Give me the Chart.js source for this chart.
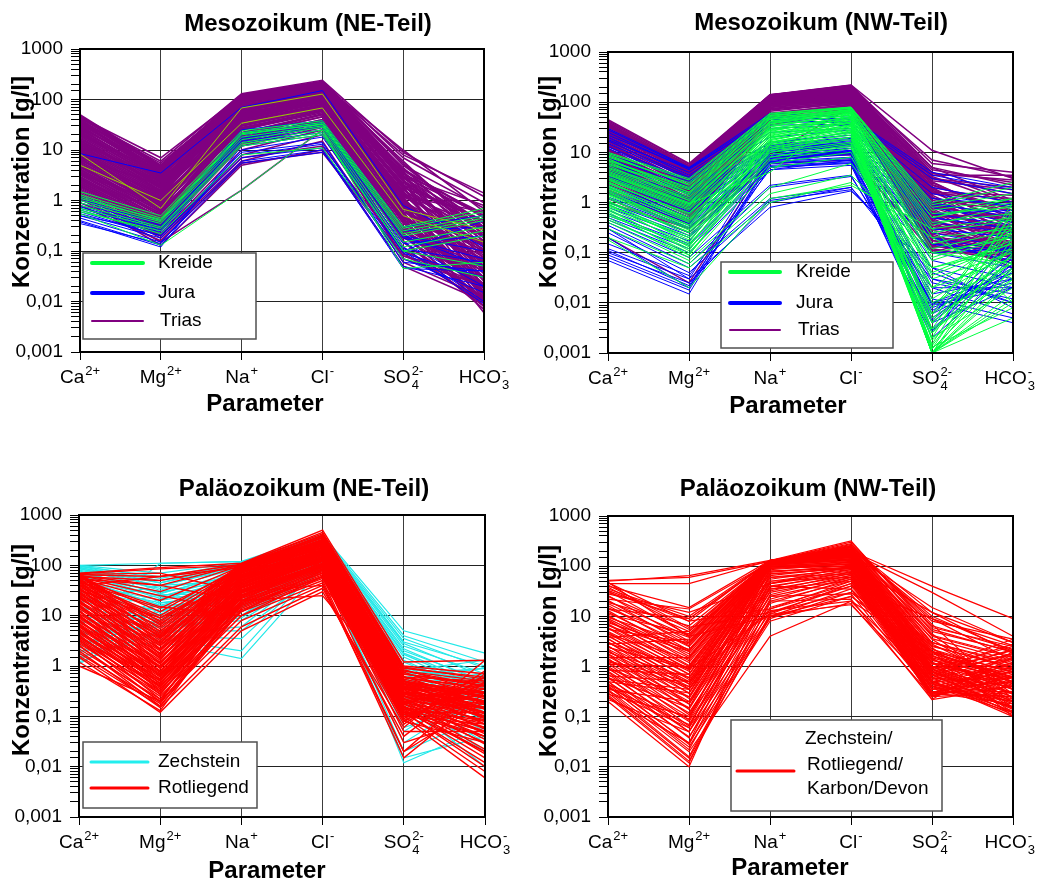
<!DOCTYPE html>
<html>
<head>
<meta charset="utf-8">
<script src="https://cdn.jsdelivr.net/npm/chart.js@4.4.1/dist/chart.umd.min.js"></script>
<style>
  body { margin: 0; background: #fff; }
  #wrap { position: relative; width: 1037px; height: 882px; overflow: hidden; }
  canvas { position: absolute; }
</style>
</head>
<body>
<div id="wrap">
  <canvas id="c1" width="518" height="441" style="left:0;top:0"></canvas>
  <canvas id="c2" width="519" height="441" style="left:518px;top:0"></canvas>
  <canvas id="c3" width="518" height="441" style="left:0;top:441px"></canvas>
  <canvas id="c4" width="519" height="441" style="left:518px;top:441px"></canvas>
</div>
<script>
const params = ['Ca²⁺', 'Mg²⁺', 'Na⁺', 'Cl⁻', 'SO₄²⁻', 'HCO₃⁻'];
// same labels split into base / subscript / superscript for drawing
const paramParts = [['Ca', '', '2+'], ['Mg', '', '2+'], ['Na', '', '+'], ['Cl', '', '-'], ['SO', '4', '2-'], ['HCO', '3', '-']];
const yLabels = ['0,001', '0,01', '0,1', '1', '10', '100', '1000'];

// each row: Ca, Mg, Na, Cl, SO4, HCO3 in g/l

// Mesozoikum NE-Teil
const kreideNE = [
  [1.5, 0.5, 24, 38, 0.3, 0.7], [1.3, 0.45, 22, 35, 0.28, 0.6], [1.2, 0.4, 20, 33, 0.25, 0.5],
  [1, 0.38, 18, 30, 0.2, 0.4], [0.9, 0.35, 16, 28, 0.15, 0.3], [0.8, 0.3, 14, 25, 0.12, 0.25],
  [0.7, 0.28, 13, 22, 0.1, 0.2], [0.6, 0.25, 12, 20, 0.1, 0.05], [0.55, 0.13, 1.6, 25, 0.045, 0.06],
  [1.1, 0.42, 21, 32, 0.22, 0.45], [0.65, 0.22, 8, 11, 0.07, 0.03]
];
const kreideNEhell = [
  [5, 1, 34, 68, 0.5, 0.15], [8.3, 0.7, 68, 128, 0.67, 0.26]
];
const juraNE = [
  [8.5, 3.5, 70, 150, 0.8, 0.12], [1.2, 0.4, 22, 35, 0.25, 0.3], [1, 0.35, 20, 32, 0.2, 0.05],
  [0.9, 0.3, 18, 30, 0.15, 0.02], [0.8, 0.28, 16, 28, 0.12, 0.01], [0.7, 0.25, 15, 25, 0.1, 0.4],
  [0.65, 0.22, 14, 22, 0.09, 0.03], [0.6, 0.2, 9, 14, 0.07, 0.015], [0.55, 0.2, 8, 13, 0.06, 0.04],
  [0.5, 0.18, 7, 11, 0.05, 0.02], [0.45, 0.15, 6, 10, 0.045, 0.04], [0.4, 0.13, 5.5, 9, 0.1, 0.009],
  [0.38, 0.12, 12, 20, 0.14, 0.2], [0.35, 0.14, 10, 18, 0.11, 0.06], [1.1, 0.32, 25, 38, 0.3, 0.5],
  [0.75, 0.26, 20, 34, 0.2, 0.1], [0.5, 0.24, 17, 30, 0.18, 0.07]
];
const triasNE = [
  [50, 5, 125, 220, 5, 0.3], [45, 7, 120, 200, 8, 1.4], [40, 4.5, 115, 210, 4, 0.5],
  [38, 5.5, 110, 190, 6, 0.2], [35, 4, 105, 180, 3, 0.8], [32, 4.2, 100, 200, 10, 0.6],
  [30, 3.5, 95, 170, 2.5, 0.1], [28, 3.8, 90, 160, 3.5, 0.05], [26, 3, 85, 150, 2, 0.4],
  [25, 3.2, 80, 140, 4.5, 0.15], [24, 2.8, 120, 190, 1.8, 0.02], [22, 2.5, 75, 130, 1.5, 0.08],
  [20, 2.6, 70, 125, 2.2, 0.3], [19, 2.2, 100, 150, 1.2, 0.012], [18, 2, 65, 120, 1, 0.03],
  [17, 2.1, 90, 170, 3, 0.5], [16, 1.8, 60, 110, 0.9, 0.06], [15, 1.9, 55, 100, 1.6, 0.2],
  [14, 1.6, 50, 95, 0.8, 0.02], [13, 1.5, 80, 130, 0.7, 0.01], [12, 1.4, 45, 90, 1.1, 0.04],
  [11, 1.3, 70, 120, 0.6, 0.1], [10, 1.2, 40, 85, 0.5, 0.015], [9.5, 1.1, 110, 180, 2.5, 0.25],
  [9, 1.1, 38, 80, 0.45, 0.008], [8.5, 1, 60, 100, 0.9, 0.05], [8, 0.95, 35, 75, 0.4, 0.02],
  [7.5, 0.9, 55, 140, 1.4, 0.12], [7, 0.85, 32, 70, 0.35, 0.03], [6.5, 0.8, 50, 95, 0.6, 0.006],
  [6, 0.75, 30, 65, 0.3, 0.07], [5.5, 0.7, 45, 120, 0.8, 0.2], [5, 0.65, 28, 60, 0.28, 0.01],
  [4.8, 0.6, 90, 160, 1.8, 0.4], [4.5, 0.6, 25, 55, 0.25, 0.04], [4.2, 0.55, 40, 90, 0.5, 0.015],
  [4, 0.5, 22, 50, 0.22, 0.02], [3.8, 0.5, 35, 80, 0.45, 0.09], [3.5, 0.45, 20, 45, 0.2, 0.01],
  [3.2, 0.45, 30, 70, 0.3, 0.03], [3, 0.4, 18, 40, 0.18, 0.05], [2.8, 0.4, 60, 110, 1.2, 0.6],
  [2.6, 0.38, 16, 38, 0.16, 0.007], [2.4, 0.35, 25, 60, 0.25, 0.02], [2.2, 0.32, 15, 35, 0.15, 0.012],
  [2, 0.3, 20, 50, 0.2, 0.04], [1.9, 0.3, 14, 30, 0.12, 0.008], [1.8, 0.28, 45, 95, 0.7, 0.15],
  [1.6, 0.25, 12, 28, 0.1, 0.02], [1.5, 0.22, 10, 25, 0.09, 0.01], [1.4, 0.2, 8, 20, 0.08, 0.03],
  [1.3, 0.18, 6, 15, 0.06, 0.012], [1.2, 0.15, 1.6, 25, 0.07, 0.02], [1.1, 0.13, 5, 10, 0.05, 0.01],
  [0.9, 0.2, 7, 12, 0.1, 0.05], [0.8, 0.16, 5.5, 9, 0.08, 0.02], [42, 6, 130, 240, 9, 1.2],
  [36, 5, 125, 230, 7, 0.9], [27, 4.5, 115, 220, 5, 0.7], [21, 3.5, 105, 200, 4, 0.35],
  [13, 3, 95, 190, 3.5, 0.25], [11, 2.4, 85, 170, 2.8, 0.18], [7, 2, 75, 150, 2, 0.1],
  [48, 4.8, 118, 215, 4.2, 0.45], [46, 4.4, 112, 205, 3.8, 0.12], [44, 4.6, 122, 225, 5.5, 0.25],
  [41, 3.9, 108, 195, 3.2, 0.07], [39, 4.1, 104, 185, 2.8, 0.35], [37, 3.6, 98, 175, 2.6, 0.018],
  [34, 3.4, 112, 200, 3.4, 0.55], [33, 3.7, 92, 165, 2.4, 0.1], [31, 3.1, 88, 160, 2.1, 0.04],
  [29, 3.3, 102, 180, 2.9, 0.22], [27, 2.9, 84, 150, 1.9, 0.013], [23, 2.7, 78, 145, 1.7, 0.09],
  [21, 2.4, 96, 175, 2.4, 0.28], [19, 2.3, 72, 135, 1.5, 0.025], [17, 1.9, 68, 128, 1.3, 0.06],
  [15.5, 2, 86, 160, 1.9, 0.16], [14.5, 1.7, 62, 118, 1.15, 0.011], [13.5, 1.75, 58, 112, 1.05, 0.035],
  [12.5, 1.55, 76, 140, 1.4, 0.13], [11.5, 1.45, 52, 100, 0.95, 0.009], [10.5, 1.35, 48, 96, 0.85, 0.045],
  [9.8, 1.25, 66, 128, 1.2, 0.2], [8.8, 1.15, 44, 88, 0.75, 0.016], [7.8, 1.05, 42, 84, 0.7, 0.065],
  [6.8, 0.95, 58, 115, 0.95, 0.14], [5.8, 0.85, 38, 78, 0.55, 0.022], [5.2, 0.78, 36, 74, 0.5, 0.05],
  [4.6, 0.7, 52, 105, 0.75, 0.11], [4.1, 0.62, 30, 66, 0.4, 0.014], [3.6, 0.56, 27, 62, 0.36, 0.03],
  [3.3, 0.52, 42, 92, 0.6, 0.075], [2.9, 0.46, 22, 52, 0.3, 0.01], [2.7, 0.43, 19, 46, 0.26, 0.028],
  [2.5, 0.4, 32, 72, 0.42, 0.06], [2.3, 0.36, 17, 40, 0.22, 0.008], [2.1, 0.34, 15, 36, 0.19, 0.018],
  [1.95, 0.32, 26, 58, 0.3, 0.045], [1.7, 0.27, 13, 32, 0.15, 0.011], [3.4, 0.9, 70, 140, 1.3, 0.3],
  [6.2, 1.4, 85, 165, 2, 0.4]
];

// Mesozoikum NW-Teil
const kreideNW = [
  [10, 3, 60, 80, 1, 2.5], [8, 2.5, 55, 75, 0.8, 1.5], [7, 2, 50, 70, 0.5, 1],
  [6, 1.8, 45, 65, 0.3, 0.5], [5, 1.5, 40, 60, 0.2, 0.3], [4.5, 1.2, 35, 55, 0.1, 0.2],
  [4, 1, 30, 50, 0.05, 0.15], [3.5, 0.9, 28, 45, 0.03, 0.1], [3, 0.8, 25, 40, 0.02, 0.08],
  [2.8, 0.7, 22, 38, 0.01, 0.06], [2.5, 0.6, 20, 35, 0.005, 0.05], [2.2, 0.5, 18, 32, 0.003, 0.03],
  [2, 0.45, 16, 30, 0.002, 0.02], [1.8, 0.4, 15, 28, 0.001, 0.01], [1.6, 0.35, 14, 25, 0.001, 0.005],
  [1.5, 0.3, 13, 22, 0.001, 0.04], [1.4, 0.28, 12, 20, 0.001, 0.1], [1.2, 0.25, 11, 18, 0.001, 0.2],
  [1, 0.2, 10, 16, 0.0012, 0.3], [0.9, 0.18, 9, 15, 0.0015, 0.5], [0.8, 0.15, 8, 13, 0.002, 0.7],
  [0.7, 0.12, 7, 12, 0.004, 1], [0.6, 0.1, 6, 10, 0.008, 0.4], [0.5, 0.08, 5, 8, 0.02, 0.25],
  [0.4, 0.07, 2, 6, 0.05, 0.12], [0.3, 0.06, 1.5, 3.5, 0.1, 0.06], [0.2, 0.05, 1, 2.5, 0.2, 0.03],
  [0.18, 0.02, 1.2, 2.2, 0.3, 0.01], [9, 2.2, 52, 78, 0.6, 0.8], [7.5, 1.6, 48, 72, 0.4, 0.6],
  [6.5, 1.4, 42, 68, 0.15, 0.35], [5.5, 1.1, 38, 62, 0.08, 0.25], [3.2, 0.85, 32, 58, 0.04, 0.18],
  [2.6, 0.55, 26, 52, 0.015, 0.12], [2.1, 0.42, 24, 48, 0.006, 0.09], [1.7, 0.32, 21, 44, 0.0025, 0.07],
  [1.3, 0.22, 19, 40, 0.0012, 0.05], [1.1, 0.16, 17, 36, 0.001, 0.03], [0.95, 0.13, 15, 33, 0.001, 0.015],
  [0.75, 0.11, 12, 27, 0.0013, 0.008], [0.65, 0.09, 11, 24, 0.003, 0.6], [3.8, 0.95, 4, 70, 0.5, 1.2],
  [9.5, 2.8, 58, 79, 0.9, 2], [8.5, 2.3, 54, 76, 0.7, 1.2], [6.8, 1.9, 46, 69, 0.35, 0.9],
  [5.8, 1.6, 41, 64, 0.25, 0.45], [4.8, 1.3, 37, 60, 0.12, 0.28], [4.2, 1.1, 33, 56, 0.07, 0.22],
  [3.6, 0.95, 29, 52, 0.035, 0.16], [2.9, 0.75, 27, 47, 0.012, 0.11], [2.4, 0.62, 23, 43, 0.004, 0.07],
  [1.9, 0.48, 20, 39, 0.0018, 0.045], [1.45, 0.36, 18, 34, 0.001, 0.025], [1.05, 0.26, 16, 30, 0.001, 0.012],
  [0.85, 0.2, 14, 26, 0.0014, 0.15], [0.55, 0.14, 10, 20, 0.0025, 0.35], [0.45, 0.09, 8, 14, 0.006, 0.8]
];
const juraNW = [
  [30, 5, 60, 50, 4, 2], [25, 4.5, 50, 45, 3, 1.5], [20, 3.5, 40, 40, 2, 1],
  [15, 3, 30, 35, 1.5, 0.8], [12, 2.5, 25, 30, 1, 0.5], [10, 2, 15, 25, 0.8, 0.4],
  [8, 1.5, 14, 20, 0.5, 0.3], [6, 1.2, 13, 18, 0.3, 0.2], [5, 1, 12, 16, 0.2, 0.1],
  [4, 0.8, 11, 15, 0.1, 0.05], [3, 0.6, 10, 14, 0.05, 0.02], [2.5, 0.5, 9, 12, 0.03, 0.01],
  [2, 0.4, 8.5, 11, 0.02, 0.006], [1.5, 0.35, 8, 10, 0.01, 0.004], [1.2, 0.3, 7, 9, 0.008, 0.03],
  [1, 0.25, 6.5, 8, 0.005, 0.06], [0.8, 0.2, 6, 7, 0.004, 0.1], [0.6, 0.15, 5.5, 6.5, 0.003, 0.08],
  [0.5, 0.12, 5, 6, 0.002, 0.05], [0.45, 0.1, 4.5, 5.5, 0.0025, 0.2], [0.4, 0.08, 2.2, 3.5, 0.006, 0.15],
  [0.35, 0.06, 2, 3.3, 0.01, 0.04], [0.3, 0.05, 1.2, 2, 0.02, 0.02], [0.25, 0.04, 1.1, 1.8, 0.04, 0.01],
  [0.12, 0.03, 0.8, 1.7, 0.05, 0.008], [0.1, 0.025, 1, 2, 0.03, 0.015], [0.09, 0.02, 5, 8, 0.015, 0.03],
  [0.08, 0.018, 6, 10, 0.007, 0.05], [0.07, 0.015, 7, 12, 0.004, 0.02], [0.3, 0.03, 10, 15, 0.1, 0.12],
  [0.2, 0.02, 9, 14, 0.2, 0.06], [22, 4.8, 55, 40, 0.3, 0.2], [18, 4, 45, 38, 0.6, 0.7],
  [3.5, 0.7, 10.5, 13, 0.5, 0.3], [0.7, 0.17, 12, 15, 0.15, 0.1],
  [28, 4.8, 45, 48, 3.5, 1.8], [17, 3.2, 35, 36, 1.2, 0.9], [13, 2.7, 20, 28, 0.9, 0.6],
  [9, 1.8, 16, 22, 0.6, 0.35], [7, 1.4, 13.5, 19, 0.4, 0.25], [5.5, 1.1, 12.5, 17, 0.25, 0.12],
  [4.5, 0.9, 11.5, 16, 0.15, 0.07], [3.3, 0.65, 10, 14.5, 0.07, 0.03], [2.2, 0.45, 9, 12, 0.025, 0.012],
  [1.7, 0.38, 8, 10.5, 0.012, 0.005], [1.3, 0.32, 7.5, 9.5, 0.009, 0.02], [0.9, 0.22, 6.2, 7.5, 0.0045, 0.09],
  [0.55, 0.14, 5.2, 6.2, 0.0028, 0.06], [0.15, 0.035, 4.5, 7, 0.01, 0.025], [0.11, 0.022, 6.5, 11, 0.006, 0.04]
];
const triasNW = [
  [45, 6, 140, 220, 11, 3], [40, 5.5, 138, 215, 6, 4], [35, 5, 135, 210, 4, 1],
  [30, 4.5, 132, 200, 3, 2], [28, 4, 130, 190, 2.5, 0.5], [25, 3.8, 128, 185, 3.5, 3.5],
  [22, 3.5, 125, 180, 2, 0.3], [20, 3, 122, 175, 1.5, 1.2], [18, 2.8, 120, 170, 1.8, 0.2],
  [16, 2.5, 118, 165, 1.2, 0.8], [15, 2.2, 115, 160, 1, 0.15], [14, 2, 112, 150, 0.9, 0.4],
  [12, 1.8, 110, 145, 0.8, 0.25], [11, 1.6, 108, 140, 0.7, 0.1], [10, 1.5, 105, 135, 0.6, 0.3],
  [9, 1.4, 100, 130, 0.5, 0.6], [8, 1.2, 98, 125, 0.45, 0.12], [7, 1.1, 95, 120, 0.4, 0.2],
  [6, 1, 90, 115, 0.35, 0.08], [5.5, 0.9, 85, 110, 0.3, 0.35], [5, 0.8, 80, 105, 0.25, 0.15],
  [4.5, 0.75, 75, 100, 0.22, 0.05], [4, 0.7, 70, 95, 0.2, 0.1], [3.5, 0.6, 60, 90, 0.18, 0.06],
  [3, 0.55, 55, 85, 0.15, 0.2], [2.5, 0.5, 50, 80, 0.12, 0.07], [2, 0.45, 45, 75, 0.1, 0.1],
  [38, 5, 140, 200, 3, 1.5], [33, 4.8, 136, 205, 2.2, 0.7], [26, 4.2, 134, 195, 4.5, 2.5],
  [19, 3.2, 130, 190, 2, 1], [13, 2.6, 126, 175, 1.6, 0.4], [9.5, 2.2, 124, 170, 1.3, 0.18],
  [7.5, 1.9, 118, 160, 1, 0.3], [6.5, 1.7, 112, 150, 0.8, 0.5], [4.8, 1.3, 106, 140, 0.6, 0.12],
  [3.8, 1.1, 100, 130, 0.5, 0.25], [2.8, 0.9, 95, 120, 0.4, 0.09], [0.2, 0.025, 8, 9, 0.1, 0.3],
  [1.5, 0.3, 7, 10, 0.2, 0.15], [1.2, 0.25, 6, 7, 0.15, 0.1], [1, 0.3, 9, 80, 1, 0.5],
  [43, 5.8, 139, 218, 5, 2.2], [36, 5.2, 137, 212, 3.3, 0.9], [32, 4.6, 134, 206, 2.7, 1.8],
  [29, 4.3, 131, 198, 2.3, 0.6], [27, 4.1, 129, 192, 3.8, 2.8], [24, 3.7, 127, 188, 1.9, 0.35],
  [21, 3.3, 124, 182, 1.6, 1.4], [17, 2.9, 121, 172, 1.4, 0.25], [14.5, 2.4, 117, 166, 1.1, 0.7],
  [13.5, 2.1, 114, 158, 0.95, 0.18], [11.5, 1.9, 111, 152, 0.85, 0.45], [10.5, 1.7, 109, 147, 0.75, 0.13],
  [9.2, 1.55, 106, 142, 0.65, 0.28], [8.5, 1.45, 103, 137, 0.55, 0.55], [7.2, 1.25, 99, 131, 0.48, 0.1],
  [6.3, 1.15, 96, 126, 0.42, 0.22], [5.8, 1.05, 92, 121, 0.38, 0.09], [5.2, 0.95, 88, 117, 0.33, 0.3],
  [4.7, 0.85, 84, 112, 0.28, 0.14], [4.2, 0.78, 78, 107, 0.24, 0.06], [3.7, 0.68, 72, 102, 0.21, 0.11],
  [3.2, 0.62, 66, 97, 0.17, 0.17], [2.7, 0.56, 58, 92, 0.14, 0.08], [2.3, 0.5, 52, 87, 0.13, 0.12],
  [1.8, 0.42, 40, 70, 0.11, 0.09], [1.6, 0.38, 35, 65, 0.13, 0.15], [41, 5.3, 136, 190, 7, 3.2],
  [34, 4.9, 133, 180, 5, 1.1], [23, 4, 126, 170, 2.6, 0.45], [16.5, 3.1, 119, 160, 1.7, 0.8]
];

// Paläozoikum NE-Teil
const zechsteinNE = [
  [100, 110, 120, 400, 5, 1.8], [95, 60, 110, 350, 3, 1], [90, 50, 100, 300, 2, 0.5],
  [80, 40, 90, 250, 1.5, 0.3], [70, 35, 60, 200, 1, 0.2], [60, 30, 50, 180, 0.8, 0.15],
  [50, 25, 40, 160, 0.5, 0.1], [45, 20, 35, 150, 0.4, 0.05], [40, 18, 30, 140, 0.3, 0.03],
  [35, 15, 25, 130, 0.25, 0.02], [30, 12, 20, 120, 0.2, 0.01], [25, 10, 15, 110, 0.15, 0.3],
  [20, 8, 12, 100, 0.1, 0.4], [15, 7, 10, 90, 0.08, 0.6], [10, 6, 8, 85, 0.05, 0.5],
  [8, 5, 5, 80, 0.03, 0.3], [5, 4, 3.5, 100, 0.02, 0.1], [3, 3.5, 2, 120, 0.012, 0.06],
  [2, 3, 1.4, 90, 0.015, 0.04], [1.5, 4.5, 6, 110, 0.06, 0.2], [1.2, 5, 10, 130, 0.1, 0.15],
  [100, 70, 115, 380, 4, 1.2], [98, 55, 105, 320, 2.5, 0.7], [85, 45, 95, 280, 1.8, 0.4],
  [75, 28, 70, 220, 1.2, 0.25], [65, 22, 55, 190, 0.9, 0.12], [55, 16, 45, 170, 0.6, 0.08],
  [2.5, 8, 28, 150, 0.35, 0.5], [4, 12, 40, 180, 0.5, 0.7], [1.8, 20, 60, 200, 0.7, 0.9],
  [6, 110, 118, 300, 1, 0.4], [97, 45, 112, 360, 3.5, 0.9], [92, 38, 102, 330, 2.8, 0.6],
  [88, 32, 92, 290, 2.2, 0.45], [78, 27, 80, 260, 1.7, 0.35], [68, 24, 65, 230, 1.3, 0.25],
  [3.5, 22, 30, 170, 0.9, 0.5], [2.2, 18, 25, 150, 0.7, 0.4], [1.6, 14, 20, 140, 0.5, 0.3],
  [1.3, 11, 16, 120, 0.4, 0.2], [1.1, 9, 14, 110, 0.3, 0.15], [2.8, 7, 12, 100, 0.25, 0.1],
  [4.5, 6, 9, 95, 0.2, 0.08], [7, 16, 18, 130, 0.45, 0.6], [12, 26, 28, 160, 0.6, 0.9],
  [18, 40, 50, 200, 0.8, 1.3]
];
const rotliegendNE = [
  [70, 90, 110, 500, 1.2, 1.3], [65, 60, 105, 450, 1, 0.7], [60, 50, 100, 400, 0.9, 0.6],
  [55, 20, 95, 350, 0.8, 0.5], [50, 10, 90, 300, 0.7, 0.4], [45, 8, 85, 280, 0.6, 0.35],
  [40, 6, 80, 250, 0.5, 0.3], [35, 5, 75, 230, 0.45, 0.25], [30, 4, 70, 200, 0.4, 0.2],
  [28, 3.5, 65, 190, 0.35, 0.15], [25, 3, 60, 180, 0.3, 0.12], [22, 2.5, 55, 170, 0.28, 0.1],
  [20, 2, 50, 160, 0.25, 0.08], [18, 1.8, 45, 150, 0.22, 0.06], [16, 1.5, 40, 140, 0.2, 0.05],
  [14, 1.2, 38, 130, 0.18, 0.04], [12, 1, 35, 120, 0.16, 0.03], [10, 0.9, 32, 110, 0.15, 0.02],
  [9, 0.8, 30, 100, 0.14, 0.015], [8, 0.7, 28, 95, 0.12, 0.01], [7, 0.6, 25, 90, 0.1, 0.008],
  [6, 0.5, 22, 85, 0.09, 0.006], [5, 0.45, 20, 80, 0.08, 0.03], [4.5, 0.4, 18, 70, 0.05, 0.05],
  [4, 0.35, 15, 60, 0.03, 0.1], [3.5, 0.3, 12, 50, 0.02, 0.2], [3, 0.25, 10, 45, 0.015, 0.3],
  [2.5, 0.2, 8, 40, 0.02, 0.5], [2, 0.15, 6, 35, 0.04, 0.7], [1.5, 0.12, 5, 30, 0.06, 1.3],
  [1.2, 0.13, 20, 25, 0.3, 0.2], [1, 0.2, 30, 40, 0.5, 0.1], [68, 85, 100, 300, 0.5, 0.2],
  [66, 70, 30, 150, 0.3, 0.1], [62, 40, 20, 120, 0.25, 0.3], [58, 25, 12, 80, 0.2, 0.15],
  [52, 15, 10, 60, 0.8, 0.4], [48, 9, 50, 200, 0.6, 0.5], [42, 7, 60, 250, 0.55, 0.25],
  [38, 4.5, 70, 270, 0.5, 0.18], [33, 3.8, 80, 300, 0.45, 0.12], [27, 2.8, 90, 320, 0.4, 0.09],
  [23, 2.2, 95, 350, 0.38, 0.07], [19, 1.6, 100, 380, 0.35, 0.3], [15, 1.3, 85, 260, 0.3, 0.2],
  [11, 1.1, 75, 220, 0.28, 0.15], [9.5, 0.95, 65, 200, 0.25, 0.12], [7.5, 0.75, 58, 180, 0.22, 0.25],
  [6.5, 0.65, 52, 165, 0.2, 0.35], [5.5, 0.55, 46, 150, 0.18, 0.45], [4.8, 0.5, 42, 140, 0.17, 0.6],
  [3.8, 0.42, 36, 125, 0.15, 0.08], [3.2, 0.32, 30, 110, 0.14, 0.05], [2.8, 0.28, 26, 100, 0.13, 0.02],
  [2.2, 0.22, 24, 95, 0.12, 0.012], [1.8, 0.18, 18, 70, 0.11, 0.04], [1.6, 0.16, 16, 60, 0.1, 0.07],
  [69, 6.5, 108, 420, 0.95, 0.55], [67, 4.8, 104, 380, 0.85, 0.3], [64, 3.6, 98, 360, 0.75, 0.22],
  [61, 7.5, 92, 330, 0.68, 0.45], [57, 2.8, 88, 310, 0.62, 0.18], [53, 5.5, 84, 290, 0.58, 0.38],
  [49, 2.2, 78, 270, 0.52, 0.14], [46, 4.2, 74, 250, 0.48, 0.28], [43, 1.7, 70, 240, 0.44, 0.11],
  [41, 3.2, 66, 220, 0.42, 0.24], [37, 1.4, 62, 210, 0.38, 0.09], [34, 2.6, 58, 200, 0.36, 0.2],
  [31, 1.1, 55, 190, 0.34, 0.07], [29, 2.1, 52, 180, 0.32, 0.17], [26, 0.9, 48, 170, 0.3, 0.055],
  [24, 1.7, 46, 165, 0.28, 0.14], [21, 0.75, 43, 160, 0.26, 0.045], [19.5, 1.4, 41, 150, 0.25, 0.12],
  [17, 0.62, 38, 140, 0.23, 0.035], [15.5, 1.15, 36, 135, 0.22, 0.1], [13, 0.52, 33, 125, 0.2, 0.028],
  [12.5, 0.95, 32, 120, 0.19, 0.085], [10.5, 0.44, 29, 110, 0.18, 0.022], [9.8, 0.8, 28, 105, 0.17, 0.07],
  [8.5, 0.38, 26, 100, 0.16, 0.018], [7.8, 0.66, 25, 95, 0.15, 0.06], [6.8, 0.32, 23, 90, 0.14, 0.05],
  [6.2, 0.55, 22, 85, 0.13, 0.04], [5.3, 0.27, 20, 80, 0.12, 0.12], [4.7, 0.46, 19, 75, 0.11, 0.2],
  [4.2, 0.22, 17, 70, 0.1, 0.3], [3.7, 0.38, 16, 65, 0.09, 0.45], [3.3, 0.19, 14, 60, 0.08, 0.6],
  [2.6, 0.16, 13, 55, 0.07, 0.8], [63, 30, 100, 200, 0.6, 0.3], [59, 12, 95, 250, 0.5, 0.25],
  [54, 40, 105, 300, 0.45, 0.2], [47, 14, 85, 220, 0.4, 0.15], [39, 60, 90, 260, 0.35, 0.12],
  [32, 9, 75, 180, 0.3, 0.1]
];

// Paläozoikum NW-Teil
const palaeoNW = [
  [50, 65, 130, 200, 40, 9], [45, 45, 128, 190, 30, 4], [52, 60, 125, 180, 15, 3],
  [40, 15, 130, 220, 10, 2], [35, 10, 128, 250, 8, 3.5], [30, 9, 125, 300, 6, 2.5],
  [25, 5, 130, 320, 5, 2], [20, 4, 127, 280, 4, 1.5], [18, 3, 126, 240, 3, 1.2],
  [15, 2.5, 124, 210, 2.5, 1], [12, 2, 122, 200, 2, 0.8], [10, 1.8, 120, 190, 1.8, 0.6],
  [9, 1.5, 118, 180, 1.5, 0.5], [8, 1.2, 115, 170, 1.2, 0.4], [7, 1, 112, 160, 1, 0.3],
  [6, 0.9, 110, 150, 0.9, 0.25], [5, 0.8, 108, 140, 0.8, 0.2], [4.5, 0.7, 105, 130, 0.7, 0.15],
  [4, 0.6, 100, 120, 0.6, 0.12], [3.5, 0.5, 95, 110, 0.5, 0.1], [3, 0.45, 90, 100, 0.45, 0.2],
  [2.5, 0.4, 80, 95, 0.4, 0.3], [2.2, 0.35, 70, 90, 0.35, 0.5], [2, 0.3, 60, 85, 0.3, 0.7],
  [1.8, 0.25, 50, 80, 0.28, 1], [1.6, 0.2, 45, 75, 0.25, 1.5], [1.4, 0.18, 40, 70, 0.22, 2],
  [1.2, 0.15, 35, 65, 0.3, 1.2], [1, 0.12, 30, 60, 0.4, 0.8], [0.9, 0.1, 25, 55, 0.5, 0.6],
  [0.8, 0.08, 20, 50, 0.6, 0.4], [0.7, 0.06, 15, 45, 0.7, 0.3], [0.6, 0.05, 12, 40, 0.8, 0.25],
  [0.5, 0.04, 10, 35, 1, 0.2], [0.45, 0.03, 9, 30, 1.2, 0.15], [0.4, 0.025, 8, 25, 1.5, 0.12],
  [0.35, 0.02, 4, 20, 2, 0.1], [0.3, 0.015, 10, 18, 0.25, 0.3], [0.25, 0.012, 20, 22, 0.22, 0.4],
  [0.2, 0.01, 40, 35, 0.3, 0.6], [0.22, 0.05, 50, 60, 0.35, 0.9], [0.28, 0.1, 60, 70, 0.45, 1.1],
  [0.35, 0.2, 80, 90, 0.55, 1.4], [0.5, 0.3, 100, 110, 0.65, 1.8], [0.65, 0.5, 115, 130, 0.75, 2.2],
  [0.85, 0.7, 125, 150, 0.85, 2.8], [1.1, 1, 128, 160, 0.95, 3.5], [1.5, 1.5, 130, 170, 1.1, 1.6],
  [2.8, 3.5, 130, 180, 1.3, 0.9], [3.8, 5, 129, 190, 1.6, 0.7], [5.5, 3, 127, 200, 2.2, 0.55],
  [7.5, 2.2, 126, 210, 2.8, 0.45], [11, 4.5, 125, 230, 3.5, 0.35], [14, 9, 122, 250, 4.5, 0.28],
  [22, 14, 118, 270, 7, 0.22], [28, 12, 45, 100, 12, 1.8], [33, 8, 14, 40, 9, 1.3],
  [42, 6, 12, 30, 3, 0.9], [48, 4, 10, 25, 2, 0.5], [1.3, 0.5, 13, 20, 0.5, 0.15],
  [2.4, 0.9, 11, 17, 0.4, 0.12], [0.55, 0.35, 35, 50, 0.3, 0.18], [0.38, 0.07, 25, 28, 0.28, 0.25],
  [47, 8, 129, 240, 12, 3], [38, 5.5, 127, 220, 9, 2.6], [32, 4.2, 126, 210, 6.5, 2.2],
  [26, 3.2, 125, 200, 5.5, 1.9], [21, 2.6, 124, 195, 4.2, 1.6], [16.5, 2.1, 123, 190, 3.6, 1.3],
  [13, 1.6, 121, 180, 3, 1.1], [10.5, 1.3, 119, 175, 2.6, 0.9], [8.5, 1.05, 117, 165, 2.2, 0.75],
  [6.8, 0.85, 114, 155, 1.9, 0.62], [5.8, 0.7, 111, 148, 1.6, 0.5], [4.8, 0.55, 107, 140, 1.35, 0.42],
  [4.2, 0.45, 103, 132, 1.15, 0.35], [3.6, 0.36, 98, 125, 1, 0.28], [3.1, 0.29, 92, 118, 0.88, 0.22],
  [2.6, 0.23, 85, 112, 0.78, 0.18], [2.1, 0.18, 75, 105, 0.68, 0.14], [1.75, 0.14, 65, 98, 0.6, 0.12],
  [1.45, 0.11, 55, 92, 0.52, 0.11], [1.15, 0.085, 45, 85, 0.46, 0.13], [0.95, 0.065, 38, 78, 0.4, 0.16],
  [0.78, 0.05, 32, 72, 0.36, 0.2], [0.62, 0.038, 27, 66, 0.32, 0.25], [0.5, 0.028, 22, 60, 0.3, 0.32],
  [0.42, 0.022, 18, 55, 0.28, 0.4], [0.33, 0.016, 14, 50, 0.26, 0.5], [0.27, 0.013, 11, 45, 0.25, 0.65],
  [0.24, 0.03, 70, 90, 0.3, 0.8], [0.32, 0.06, 90, 110, 0.4, 1], [0.44, 0.09, 110, 140, 0.5, 1.2],
  [0.6, 0.15, 120, 160, 0.6, 1.5], [0.9, 0.25, 126, 180, 0.7, 1.8], [1.25, 0.4, 129, 200, 0.8, 2.1],
  [1.9, 0.6, 130, 220, 0.9, 2.5], [2.9, 0.95, 130, 240, 1, 0.6], [4.4, 1.4, 129, 260, 1.2, 0.45],
  [6.5, 2, 128, 200, 1.4, 0.35], [9.5, 2.8, 127, 170, 1.7, 0.28], [14, 3.8, 126, 150, 2, 0.2],
  [19, 6.5, 124, 130, 2.4, 0.15]
];

const FONT = '"Liberation Sans", Arial, Helvetica, sans-serif';
Chart.defaults.font.family = FONT;
Chart.defaults.color = '#000';

// titles, axis titles and legend boxes per panel (canvas coordinates)
const panels = {
  c1: {
    area: { left: 80, right: 484, top: 49, bottom: 352 },
    title: ['Mesozoikum (NE-Teil)', 308, 24], yTitle: [22, 182], xTitle: [265, 404],
    box: [83, 253, 256, 339],
    items: [
      { color: '#00ff40', lw: 4, x: [92, 143], y: 263, texts: [['Kreide', 158, 263]] },
      { color: '#0000ff', lw: 4, x: [92, 143], y: 293, texts: [['Jura', 158, 293]] },
      { color: '#800080', lw: 2, x: [92, 143], y: 321, texts: [['Trias', 160, 321]] }
    ],
    groups: [
      { rows: kreideNE, color: '#00ff40', order: 0, lw: 1 },
      { rows: kreideNEhell, color: '#99cc00', order: 0, lw: 1 },
      { rows: juraNE, color: '#0000ff', order: 1, lw: 1 },
      { rows: triasNE, color: '#800080', order: 2, lw: 1.6 }
    ]
  },
  c2: {
    area: { left: 90, right: 495, top: 52, bottom: 353 },
    title: ['Mesozoikum (NW-Teil)', 303, 23], yTitle: [31, 182], xTitle: [270, 406],
    box: [203, 262, 375, 348],
    items: [
      { color: '#00ff40', lw: 4, x: [212, 262], y: 272, texts: [['Kreide', 278, 272]] },
      { color: '#0000ff', lw: 4, x: [212, 262], y: 303, texts: [['Jura', 278, 303]] },
      { color: '#800080', lw: 2, x: [212, 262], y: 330, texts: [['Trias', 280, 330]] }
    ],
    groups: [
      { rows: kreideNW, color: '#00ff40', order: 0, lw: 1 },
      { rows: juraNW, color: '#0000ff', order: 1, lw: 1 },
      { rows: triasNW, color: '#800080', order: 2, lw: 1.5 }
    ]
  },
  c3: {
    area: { left: 79, right: 485, top: 74, bottom: 376 },
    title: ['Paläozoikum (NE-Teil)', 304, 48], yTitle: [22, 209], xTitle: [267, 430],
    box: [83, 301, 257, 367],
    items: [
      { color: '#22eeee', lw: 3, x: [91, 148], y: 321, texts: [['Zechstein', 158, 321]] },
      { color: '#ff0000', lw: 3, x: [91, 148], y: 347, texts: [['Rotliegend', 158, 347]] }
    ],
    groups: [
      { rows: rotliegendNE, color: '#ff0000', order: 0, lw: 1.4 },
      { rows: zechsteinNE, color: '#22e8e8', order: 1, lw: 1.2 }
    ]
  },
  c4: {
    area: { left: 90, right: 495, top: 75, bottom: 376 },
    title: ['Paläozoikum (NW-Teil)', 290, 48], yTitle: [31, 210], xTitle: [272, 427],
    box: [213, 279, 424, 370],
    items: [
      { color: '#ff0000', lw: 3, x: [219, 276], y: 330,
        texts: [['Zechstein/', 287, 298], ['Rotliegend/', 289, 324], ['Karbon/Devon', 289, 348]] }
    ],
    groups: [
      { rows: palaeoNW, color: '#ff0000', order: 0, lw: 1.2 }
    ]
  }
};

// x tick labels with real sub/superscripts
function drawParamLabels(chart) {
  const ctx = chart.ctx, xs = chart.scales.x, a = chart.chartArea;
  const big = '19px ' + FONT, small = '13px ' + FONT;
  const base = a.bottom + 31;
  ctx.textAlign = 'left';
  ctx.textBaseline = 'alphabetic';
  ctx.fillStyle = '#000';
  paramParts.forEach((pp, i) => {
    ctx.font = big;
    const wb = ctx.measureText(pp[0]).width;
    ctx.font = small;
    const ws = Math.max(ctx.measureText(pp[1]).width, ctx.measureText(pp[2]).width);
    const w = wb + ws + 1;
    let x0 = xs.getPixelForValue(i) - w / 2;
    x0 = Math.min(x0, chart.width - w - 2);
    ctx.font = big;
    ctx.fillText(pp[0], x0, base);
    ctx.font = small;
    if (pp[1]) ctx.fillText(pp[1], x0 + wb + 1, base + 6);
    if (pp[2]) ctx.fillText(pp[2], x0 + wb + 1, base - 8);
  });
}

const deco = {
  id: 'deco',
  afterDraw(chart) {
    const p = panels[chart.canvas.id];
    const ctx = chart.ctx, a = chart.chartArea;
    ctx.save();
    // frame
    ctx.strokeStyle = '#000';
    ctx.lineWidth = 2;
    ctx.strokeRect(a.left, a.top, a.right - a.left, a.bottom - a.top);
    drawParamLabels(chart);
    // legend
    const b = p.box;
    ctx.fillStyle = '#fff';
    ctx.fillRect(b[0], b[1], b[2] - b[0], b[3] - b[1]);
    ctx.strokeStyle = '#505050';
    ctx.lineWidth = 1.5;
    ctx.strokeRect(b[0], b[1], b[2] - b[0], b[3] - b[1]);
    ctx.font = '19px ' + FONT;
    ctx.textBaseline = 'middle';
    ctx.textAlign = 'left';
    p.items.forEach(it => {
      ctx.strokeStyle = it.color;
      ctx.lineWidth = it.lw;
      ctx.lineCap = 'round';
      ctx.beginPath();
      ctx.moveTo(it.x[0], it.y);
      ctx.lineTo(it.x[1], it.y);
      ctx.stroke();
      ctx.fillStyle = '#000';
      it.texts.forEach(t => ctx.fillText(t[0], t[1], t[2]));
    });
    // titles
    ctx.fillStyle = '#000';
    ctx.textAlign = 'center';
    ctx.font = 'bold 24px ' + FONT;
    ctx.fillText(p.title[0], p.title[1], p.title[2]);
    ctx.fillText('Parameter', p.xTitle[0], p.xTitle[1]);
    ctx.translate(p.yTitle[0], p.yTitle[1]);
    ctx.rotate(-Math.PI / 2);
    ctx.fillText('Konzentration [g/l]', 0, 0);
    ctx.restore();
  }
};

function isDecade(v) {
  const l = Math.log10(v);
  return Math.abs(l - Math.round(l)) < 1e-6;
}

function makeChart(id) {
  const p = panels[id];
  const cv = document.getElementById(id);
  const W = cv.width, H = cv.height, ar = p.area;
  const datasets = [];
  p.groups.forEach(g => {
    g.rows.forEach(r => {
      datasets.push({
        data: r, borderColor: g.color, borderWidth: g.lw,
        pointRadius: 0, tension: 0, fill: false, order: g.order
      });
    });
  });
  return new Chart(cv, {
    type: 'line',
    data: { labels: params, datasets },
    options: {
      responsive: false,
      animation: false,
      events: [],
      devicePixelRatio: 1,
      layout: { padding: { left: 0, top: ar.top, right: W - ar.right, bottom: 0 } },
      plugins: { legend: { display: false }, tooltip: { enabled: false }, title: { display: false } },
      scales: {
        x: {
          grid: { color: '#3c3c3c', tickColor: '#000', tickLength: 8, lineWidth: 1 },
          border: { display: false },
          ticks: { callback: () => '', autoSkip: false, maxRotation: 0 },
          afterFit(s) { s.height = H - ar.bottom; s.paddingLeft = 0; s.paddingRight = 0; }
        },
        y: {
          type: 'logarithmic',
          min: 0.001,
          max: 1000,
          grid: {
            color: c => (c.tick && isDecade(c.tick.value)) ? '#222' : 'rgba(0,0,0,0)',
            tickColor: '#000', tickLength: 9, lineWidth: 1
          },
          border: { display: false },
          ticks: {
            font: { size: 19 }, padding: 8, autoSkip: false,
            callback: v => isDecade(v) ? yLabels[Math.round(Math.log10(v)) + 3] : ''
          },
          afterFit(s) { s.width = ar.left; s.paddingTop = 0; s.paddingBottom = 0; }
        }
      }
    },
    plugins: [deco]
  });
}

['c1', 'c2', 'c3', 'c4'].forEach(makeChart);
</script>
</body>
</html>
